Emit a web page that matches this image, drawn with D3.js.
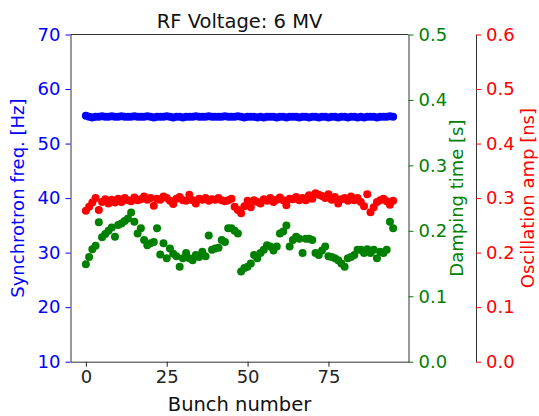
<!DOCTYPE html>
<html>
<head>
<meta charset="utf-8">
<script src="https://cdn.jsdelivr.net/npm/d3@7"></script>
<style>
  body { margin: 0; background: #fff; }
  text { font-family: "DejaVu Sans", sans-serif; }
</style>
</head>
<body>
<svg id="chart" width="539" height="416"></svg>
<script>
// synchrotron frequency [Hz] per bunch
var freq = [
  55.1,54.9,54.8,54.9,54.9,55.0,54.9,54.9,55.0,54.9,54.9,55.0,
  54.9,54.9,54.9,55.0,54.9,54.9,54.9,55.0,54.9,54.8,54.9,54.9,
  54.9,55.0,54.9,54.8,54.9,54.9,54.8,54.9,54.9,54.9,55.0,54.9,
  54.9,54.9,55.0,54.9,54.9,54.9,54.9,55.0,54.9,54.9,54.9,55.0,
  54.9,54.8,54.9,54.9,54.9,54.8,54.9,54.8,54.9,54.9,54.9,54.8,
  54.9,54.9,54.8,54.9,54.9,54.9,54.8,54.9,54.9,54.8,54.9,54.9,
  54.8,54.9,54.9,54.8,54.9,54.9,54.8,54.9,54.9,54.8,54.9,54.9,
  54.8,54.9,54.8,54.9,54.9,54.9,54.8,54.9,54.9,54.9,55.0,54.9
]

// damping time [s]
var damping = [
  0.149,0.160,0.172,0.177,0.213,0.190,0.195,0.200,0.205,0.191,0.209,0.211,
  0.215,0.219,0.228,0.214,0.196,0.204,0.186,0.178,0.181,0.183,0.204,0.164,
  0.181,0.158,0.173,0.165,0.161,0.145,0.158,0.166,0.158,0.155,0.163,0.160,
  0.168,0.161,0.193,0.171,0.173,0.174,0.186,0.183,0.204,0.204,0.200,0.196,
  0.138,0.143,0.145,0.150,0.163,0.158,0.166,0.171,0.178,0.176,0.170,0.176,
  0.196,0.199,0.208,0.176,0.186,0.191,0.188,0.166,0.188,0.188,0.186,0.166,
  0.163,0.170,0.176,0.161,0.160,0.158,0.155,0.150,0.145,0.158,0.160,0.163,
  0.171,0.171,0.166,0.172,0.166,0.171,0.158,0.168,0.166,0.171,0.214,0.204
]

// oscillation amplitude [ns]
var amp = [
  0.277,0.284,0.292,0.300,0.278,0.293,0.298,0.290,0.297,0.292,0.299,0.293,
  0.300,0.296,0.294,0.301,0.296,0.298,0.303,0.297,0.300,0.286,0.299,0.297,
  0.303,0.300,0.295,0.289,0.299,0.302,0.296,0.295,0.306,0.296,0.290,0.299,
  0.297,0.300,0.295,0.298,0.297,0.300,0.296,0.294,0.296,0.299,0.284,0.278,
  0.272,0.285,0.295,0.283,0.296,0.293,0.290,0.298,0.295,0.300,0.293,0.297,
  0.301,0.296,0.287,0.299,0.298,0.302,0.296,0.300,0.296,0.305,0.299,0.309,
  0.306,0.304,0.300,0.307,0.297,0.302,0.290,0.298,0.300,0.295,0.303,0.296,
  0.300,0.293,0.285,0.307,0.274,0.283,0.293,0.296,0.299,0.294,0.288,0.295
]

var xTicks = [0, 25, 50, 75]
var freqTicks = [10, 20, 30, 40, 50, 60, 70]
var dampTicks = [0.0, 0.1, 0.2, 0.3, 0.4, 0.5]
var ampTicks = [0.0, 0.1, 0.2, 0.3, 0.4, 0.5, 0.6]

// plot box (note: "top" is a reserved window property)
var plotL = 70.5, plotR = 408.5, plotT = 34.5, plotB = 361.7
var redX = 476

var svg = d3.select("#chart")

var x = d3.scaleLinear().domain([-4.75, 99.75]).range([plotL, plotR])
var yFreq = d3.scaleLinear().domain([10, 70]).range([plotB, plotT])
var yDamp = d3.scaleLinear().domain([0, 0.5]).range([plotB, plotT])
var yAmp = d3.scaleLinear().domain([0, 0.6]).range([plotB, plotT])

// points
function dots(data, y, color) {
  svg.append("g")
    .selectAll("circle")
    .data(data)
    .enter()
    .append("circle")
    .attr("cx", function(d, i) { return x(i) })
    .attr("cy", function(d) { return y(d) })
    .attr("r", 4)
    .style("fill", color)
}
dots(freq, yFreq, "blue")
dots(damping, yDamp, "green")
dots(amp, yAmp, "red")

// axes
function styleAxis(g, color) {
  g.selectAll(".domain").style("stroke", "#333").style("stroke-width", 1)
  g.selectAll(".tick line").style("stroke", color).style("stroke-width", 1)
  g.selectAll(".tick text")
    .style("fill", color)
    .style("font-size", "18px")
    .style("font-family", "DejaVu Sans")
}

var gx = svg.append("g")
  .attr("transform", "translate(0," + plotB + ")")
  .call(d3.axisBottom(x).tickValues(xTicks).tickSize(5).tickPadding(4).tickSizeOuter(0))
styleAxis(gx, "#222")

var gl = svg.append("g")
  .attr("transform", "translate(" + plotL + ",0)")
  .call(d3.axisLeft(yFreq).tickValues(freqTicks).tickSize(5).tickPadding(5).tickSizeOuter(0))
styleAxis(gl, "blue")

var gr = svg.append("g")
  .attr("transform", "translate(" + plotR + ",0)")
  .call(d3.axisRight(yDamp).tickValues(dampTicks).tickFormat(d3.format(".1f")).tickSize(5).tickPadding(5).tickSizeOuter(0))
styleAxis(gr, "green")

var ga = svg.append("g")
  .attr("transform", "translate(" + redX + ",0)")
  .call(d3.axisRight(yAmp).tickValues(ampTicks).tickFormat(d3.format(".1f")).tickSize(5).tickPadding(5).tickSizeOuter(0))
styleAxis(ga, "red")

// top spine
svg.append("line")
  .attr("x1", plotL).attr("x2", plotR)
  .attr("y1", plotT).attr("y2", plotT)
  .style("stroke", "#333")
  .style("stroke-width", 1)

// labels
svg.append("text")
  .attr("x", (plotL + plotR) / 2)
  .attr("y", 28)
  .attr("text-anchor", "middle")
  .style("font-size", "19.5px")
  .style("fill", "#111")
  .text("RF Voltage: 6 MV")

svg.append("text")
  .attr("x", (plotL + plotR) / 2)
  .attr("y", 411)
  .attr("text-anchor", "middle")
  .style("font-size", "19.5px")
  .style("fill", "#111")
  .text("Bunch number")

function yLabel(cx, text, color) {
  svg.append("text")
    .attr("transform", "translate(" + cx + "," + ((plotT + plotB) / 2) + ") rotate(-90)")
    .attr("text-anchor", "middle")
    .attr("dy", "0.35em")
    .style("font-size", "18px")
    .style("fill", color)
    .text(text)
}
yLabel(18, "Synchrotron freq. [Hz]", "blue")
yLabel(457, "Damping time [s]", "green")
yLabel(528, "Oscillation amp [ns]", "red")
</script>
</body>
</html>
